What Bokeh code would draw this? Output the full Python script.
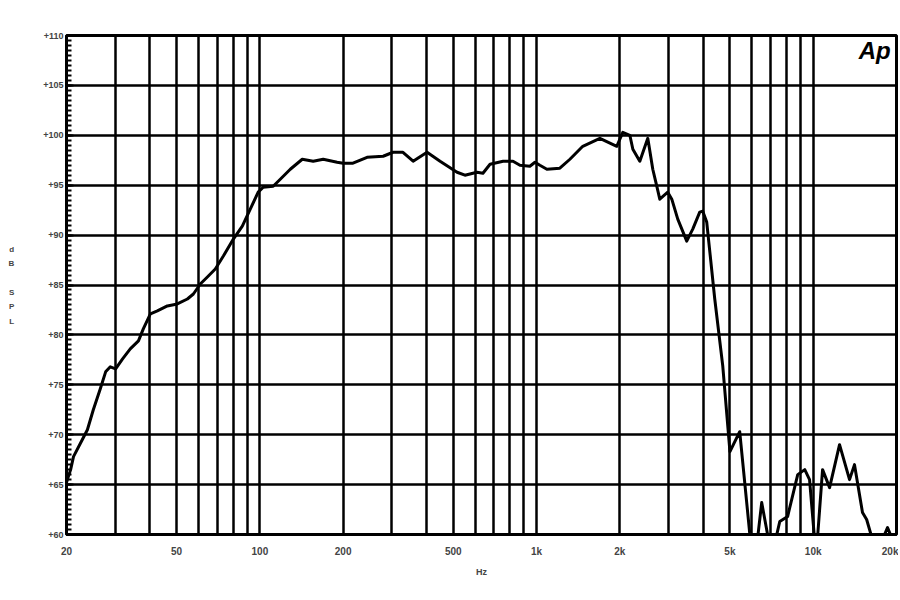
import numpy as np
from bokeh.plotting import figure
from bokeh.models import (Range1d, FixedTicker, CustomJSTickFormatter, Label)
from bokeh.embed import file_html
from bokeh.resources import INLINE

# ---- data ----
freq_hz = [20, 20.2, 20.7, 21.2, 22.8, 23.8, 25.0, 26.5, 27.7, 28.8, 30.1, 31.9,
           34.0, 36.4, 37.9, 40.2, 42.6, 46.3, 50.3, 54.7, 57.5, 60.9, 64.6,
           69.0, 73.8, 80.2, 86.4, 92.3, 98.6, 102.8, 111.7, 118.5, 128.8,
           142.3, 155.9, 169.4, 190.2, 200, 217, 244, 279, 303, 329, 358, 402,
           448, 516, 551, 609, 640, 679, 757, 822, 871, 946, 987, 1028, 1090,
           1214, 1320, 1469, 1694, 1950, 2050, 2174, 2229, 2362, 2524, 2631,
           2720, 2789, 2980, 3082, 3239, 3490, 3669, 3889, 3988, 4122, 4407,
           4710, 5000, 5424, 5892, 6140, 6513, 6840,
           7080, 7315, 7570, 8080, 8790, 9320, 9700, 10150, 10290, 10810,
           11460, 12450, 13530, 14100, 15070, 15600, 16370, 17070, 17800,
           18560, 19340, 20000]
spl_db = [65.2, 65.6, 66.5, 67.8, 69.5, 70.5, 72.5, 74.6, 76.3, 76.8, 76.6,
          77.6, 78.6, 79.4, 80.6, 82.1, 82.4, 82.9, 83.1, 83.6, 84.1, 85.1,
          85.8, 86.6, 87.9, 89.6, 90.9, 92.6, 94.3, 94.8, 94.9, 95.6, 96.6,
          97.6, 97.4, 97.6, 97.3, 97.2, 97.2, 97.8, 97.9, 98.3, 98.3, 97.4,
          98.3, 97.4, 96.3, 96.0, 96.3, 96.2, 97.1, 97.4, 97.4, 97.0, 96.9,
          97.3, 97.0, 96.6, 96.7, 97.6, 98.9, 99.7, 98.9, 100.3, 100.0, 98.6,
          97.4, 99.7, 96.6, 94.9, 93.6, 94.3, 93.6, 91.6, 89.4, 90.6, 92.3,
          92.4, 91.3, 83.6, 76.9, 68.3, 70.3, 60.2,
          57.0, 63.2, 60.0, 57.0, 59.5, 61.3, 61.8, 66.0, 66.5, 65.5, 59.0,
          58.5, 66.5, 64.7, 69.0, 65.5, 67.0, 62.2, 61.5, 59.5, 58.0, 59.5,
          60.7, 59.5, 59.0]

x_ticks = [20, 50, 100, 200, 500, 1000, 2000, 5000, 10000, 20000]
x_tick_labels = ["20", "50", "100", "200", "500", "1k", "2k", "5k", "10k", "20k"]
x_grid = [m * d for d in (10, 100, 1000, 10000) for m in range(1, 10)
          if 20 <= m * d <= 20000]
y_ticks = list(range(60, 111, 5))
y_minor = [float(v) for v in np.arange(60, 110.01, 0.5)]

p = figure(width=898, height=592, x_axis_type="log",
           x_range=Range1d(20, 20000), y_range=Range1d(60, 110),
           output_backend="svg", toolbar_location=None,
           min_border_left=66, min_border_right=2,
           min_border_top=35, min_border_bottom=58)
p.background_fill_color = "white"
p.border_fill_color = "white"
p.outline_line_color = "black"
p.outline_line_width = 3

# grids
p.xgrid.ticker = FixedTicker(ticks=x_grid)
p.ygrid.ticker = FixedTicker(ticks=y_ticks)
for g in (p.xgrid[0], p.ygrid[0]):
    g.grid_line_color = "black"
    g.grid_line_width = 2.5
    g.grid_line_alpha = 1.0

# x axis
xa = p.xaxis[0]
xa.ticker = FixedTicker(ticks=x_ticks)
xa.formatter = CustomJSTickFormatter(
    args=dict(vals=x_ticks, labs=x_tick_labels),
    code="""
    for (let i = 0; i < vals.length; i++) {
        if (Math.abs(vals[i] - tick) / vals[i] < 1e-6) return labs[i];
    }
    return "";
    """)
xa.major_tick_line_color = None
xa.minor_tick_line_color = None
xa.axis_line_color = "black"
xa.axis_line_width = 3
xa.major_label_text_font = "Liberation Sans"
xa.major_label_text_font_style = "bold"
xa.major_label_text_font_size = "10px"
xa.major_label_standoff = 5
xa.axis_label = "Hz"
xa.axis_label_text_font = "Liberation Sans"
xa.axis_label_text_font_style = "bold"
xa.axis_label_text_font_size = "9px"
xa.axis_label_standoff = 7

# y axis
ya = p.yaxis[0]
ya.ticker = FixedTicker(ticks=y_ticks, minor_ticks=y_minor)
ya.formatter = CustomJSTickFormatter(code='return "+" + tick.toFixed(0);')
ya.axis_line_color = "black"
ya.axis_line_width = 3
ya.major_tick_in = 7
ya.major_tick_out = 0
ya.major_tick_line_width = 2
ya.minor_tick_in = 5
ya.minor_tick_out = 0
ya.minor_tick_line_color = "black"
ya.minor_tick_line_width = 2
ya.major_label_text_font = "Liberation Sans"
ya.major_label_text_font_style = "bold"
ya.major_label_text_font_size = "9px"
ya.major_label_standoff = 3
ya.axis_label = "d\nB\n\nS\nP\nL"
ya.axis_label_orientation = "horizontal"
ya.axis_label_text_font = "Liberation Sans"
ya.axis_label_text_font_style = "bold"
ya.axis_label_text_font_size = "8px"
ya.axis_label_text_line_height = 1.6
ya.axis_label_standoff = 26

# response curve
p.line(freq_hz, spl_db, line_color="black", line_width=3, line_join="round")

# Ap logo
p.add_layout(Label(x=14600, y=108.5, text="Ap", text_font="Liberation Sans",
                   text_font_style="bold italic", text_font_size="24px",
                   text_align="left", text_baseline="middle", text_color="black"))

open("out.html", "w").write(file_html(p, INLINE))
